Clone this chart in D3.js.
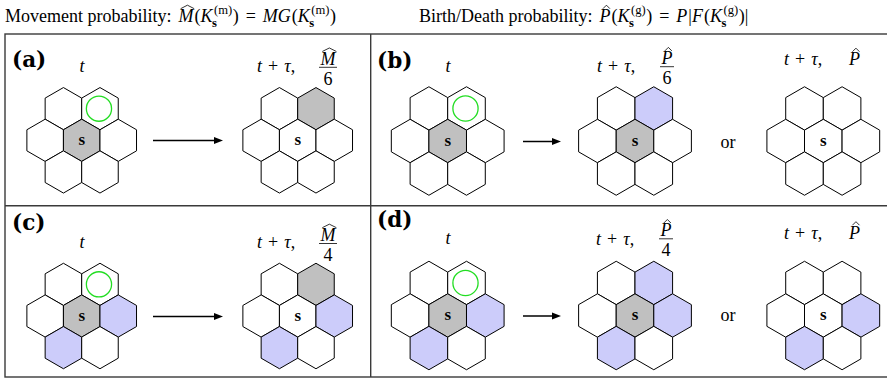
<!DOCTYPE html>
<html lang="en">
  <head>
    <title>Movement and birth/death moves</title>
    <script src="https://cdn.jsdelivr.net/npm/d3@7"></script>
  </head>

  <body style="margin: 0; background-color: white;">
    <div id="container"></div>
  </body>

<script>
    // hexagon neighbourhood: NW, NE, W, centre, E, SW, SE
    const cells = ["NW", "NE", "W", "C", "E", "SW", "SE"];
    const cellCol = [-0.5, 0.5, -1, 0, 1, -0.5, 0.5];
    const cellRow = [-1, -1, 0, 0, 0, 1, 1];

    // 0 = empty, 1 = occupied (grey), 2 = other occupied site (blue)
    const gridA1 = [0, 0, 0, 1, 0, 0, 0];
    const gridA2 = [0, 1, 0, 0, 0, 0, 0];
    const gridB1 = [0, 0, 0, 1, 0, 0, 0];
    const gridB2 = [0, 2, 0, 1, 0, 0, 0];
    const gridB3 = [0, 0, 0, 0, 0, 0, 0];
    const gridC1 = [0, 0, 0, 1, 2, 2, 0];
    const gridC2 = [0, 1, 0, 0, 2, 2, 0];
    const gridD1 = [0, 0, 0, 1, 2, 2, 0];
    const gridD2 = [0, 2, 0, 1, 2, 2, 0];
    const gridD3 = [0, 0, 0, 0, 2, 2, 0];

    const panelLabels = ["(a)", "(b)", "(c)", "(d)"];
    const fracDen = ["6", "6", "4", "4"];

    const fillColors = ["#ffffff", "#c0c0c0", "#ccccfa"];
    const serif = "Liberation Serif, Times New Roman, DejaVu Serif, serif";

    const W = 887, H = 379;
    const svg = d3.select("#container").append("svg")
      .attr("width", W).attr("height", H);

    // ---------- text helpers ----------
    function put(g, x, y, str, o) {
      const t = g.append("text")
        .attr("x", x).attr("y", y)
        .attr("font-family", o.font || serif)
        .attr("font-size", o.size)
        .attr("font-style", o.it ? "italic" : "normal")
        .attr("font-weight", o.b ? "bold" : "normal")
        .attr("text-anchor", o.anchor || "start")
        .attr("fill", "black")
        .text(str);
      return t.node().getComputedTextLength();
    }

    function hat(g, x0, x1, y, wide) {
      const h = 3.5;
      const m = (x0 + x1) / 2;
      const half = wide ? (x1 - x0) / 2 : Math.min(3.5, (x1 - x0) / 2);
      g.append("path")
        .attr("d", `M${m - half},${y} L${m},${y - h} L${m + half},${y}`)
        .attr("fill", "none").attr("stroke", "black").attr("stroke-width", 0.8);
    }

    function mathRow(g, x, y, parts, size) {
      let cx = x;
      parts.forEach((p) => {
        cx = p.at !== undefined ? p.at : cx + (p.pre || 0);
        const w = put(g, cx, y, p.s, {size: size, it: p.it, b: p.b});
        if (p.hat) hat(g, cx + (p.it ? size * 0.12 : 0), cx + w + (p.it ? size * 0.04 : 0), y - size * 0.74, p.hat === "wide");
        let adv = w;
        if (p.sub || p.sup) {
          const ss = size * 0.7;
          const w1 = p.sub ? put(g, cx + w - 0.5, y + size * 0.3, p.sub, {size: ss, b: true}) : 0;
          const w2 = p.sup ? put(g, cx + w + 1.5, y - size * 0.42, p.sup, {size: ss}) : 0;
          adv += Math.max(w1, w2 + 1.5) + 0.5;
        }
        cx += adv + (p.post || 0);
      });
      return cx;
    }

    function frac(g, cx, barY, num, den, size, hatType) {
      const nw = put(g, cx, barY - 2.5, num, {size: size, it: true, anchor: "middle"});
      hat(g, cx - nw / 2 + size * 0.1, cx + nw / 2 + size * 0.05, barY - 2.5 - size * 0.74, hatType === "wide");
      const dw = put(g, cx, barY + size * 0.98, den, {size: size, anchor: "middle"});
      const bw = Math.max(nw, dw) + 3;
      g.append("line")
        .attr("x1", cx - bw / 2).attr("x2", cx + bw / 2)
        .attr("y1", barY).attr("y2", barY)
        .attr("stroke", "black").attr("stroke-width", 0.8);
    }

    const K = (sup) => ({s: "K", it: true, sub: "s", sup: sup});
    const tTau = [{s: "t", it: true}, {s: "+", pre: 6, post: 6}, {s: "τ", it: true}, {s: ","}];

    // ---------- titles ----------
    const titleG = svg.append("g");
    mathRow(titleG, 5, 22, [
      {s: "Movement probability:"}, {s: "M", it: true, hat: "wide", pre: 7}, {s: "(", pre: 1}, K("(m)"), {s: ")"},
      {s: "=", pre: 7, post: 7}, {s: "MG", it: true}, {s: "(", pre: 1}, K("(m)"), {s: ")"}
    ], 18);
    mathRow(titleG, 419, 22, [
      {s: "Birth/Death probability:"}, {s: "P", it: true, hat: "narrow", pre: 7}, {s: "(", pre: 1}, K("(g)"), {s: ")"},
      {s: "=", pre: 7, post: 7}, {s: "P", it: true}, {s: "|", pre: 1}, {s: "F", it: true}, {s: "(", pre: 1}, K("(g)"), {s: ")"}, {s: "|"}
    ], 18);

    // ---------- frame ----------
    const frame = svg.append("g").attr("stroke", "#3a3a3a").attr("stroke-width", 1.4).attr("fill", "none");
    frame.append("rect").attr("x", 5).attr("y", 34).attr("width", 890).attr("height", 343);
    frame.append("line").attr("x1", 370.7).attr("x2", 370.7).attr("y1", 34).attr("y2", 377);
    frame.append("line").attr("x1", 5).attr("x2", 895).attr("y1", 205.7).attr("y2", 205.7);

    // ---------- hex grids ----------
    const hexLine = d3.line().curve(d3.curveLinearClosed);
    function hexPts(r) {
      return d3.range(6).map((k) => {
        const a = (Math.PI / 180) * (-90 + 60 * k);
        return [r * Math.cos(a), r * Math.sin(a)];
      });
    }

    function drawGrid(cx, cy, r, fills, circle) {
      const w = Math.sqrt(3) * r;
      const xs = d3.scaleLinear().domain([0, 1]).range([cx, cx + w]);
      const ys = d3.scaleLinear().domain([0, 1]).range([cy, cy + 1.5 * r]);
      const g = svg.append("g");
      g.selectAll("path.hex")
        .data(cells)
        .enter()
        .append("path")
          .attr("class", "hex")
          .attr("d", hexLine(hexPts(r)))
          .attr("transform", (d, i) => `translate(${xs(cellCol[i])}, ${ys(cellRow[i])})`)
          .attr("fill", (d, i) => fillColors[fills[i]])
          .attr("stroke", "black")
          .attr("stroke-width", 1)
          .attr("stroke-linejoin", "miter");
      put(g, xs(0), ys(0) + 4.5, "s", {size: 17, b: true, anchor: "middle"});
      if (circle) {
        const i = cells.indexOf("NE");
        g.append("circle")
          .attr("cx", xs(cellCol[i]) - 1).attr("cy", ys(cellRow[i]))
          .attr("r", 12.6)
          .attr("fill", "none").attr("stroke", "#22dd22").attr("stroke-width", 1.3);
      }
    }

    function arrow(x0, x1, y) {
      svg.append("line").attr("x1", x0).attr("x2", x1 - 7).attr("y1", y).attr("y2", y)
        .attr("stroke", "black").attr("stroke-width", 1.5);
      svg.append("path").attr("d", `M${x1},${y} L${x1 - 9},${y - 3.6} L${x1 - 9},${y + 3.6} Z`).attr("fill", "black");
    }

    const labelFont = "DejaVu Serif, serif";
    const mSize = 18;

    // ---------- panels ----------
    const L = svg.append("g");
    // (a)
    put(L, 12, 66.5, panelLabels[0], {size: 21.5, b: true, font: labelFont});
    put(L, 82, 71.5, "t", {size: mSize, it: true, anchor: "middle"});
    mathRow(L, 257, 71.5, tTau, mSize);
    frac(L, 328, 67.3, "M", fracDen[0], mSize, "wide");
    drawGrid(81.7, 140.3, 21.1, gridA1, true);
    arrow(153, 223, 140.5);
    drawGrid(297.7, 140.3, 21.1, gridA2, false);

    // (b)
    put(L, 377, 67.5, panelLabels[1], {size: 21.5, b: true, font: labelFont});
    put(L, 448, 72, "t", {size: mSize, it: true, anchor: "middle"});
    mathRow(L, 597, 72, tTau, mSize);
    frac(L, 667, 66.7, "P", fracDen[1], mSize, "narrow");
    mathRow(L, 784, 65, tTau.concat([{s: "P", it: true, hat: "narrow", at: 849}]), mSize);
    drawGrid(447.7, 141, 21.7, gridB1, true);
    arrow(523, 561, 141.5);
    drawGrid(635, 141, 21.7, gridB2, false);
    put(L, 728, 148, "or", {size: mSize, anchor: "middle"});
    drawGrid(823.3, 141, 21.7, gridB3, false);

    // (c)
    put(L, 12, 230, panelLabels[2], {size: 21.5, b: true, font: labelFont});
    put(L, 82, 248, "t", {size: mSize, it: true, anchor: "middle"});
    mathRow(L, 257, 248, tTau, mSize);
    frac(L, 328, 243.5, "M", fracDen[2], mSize, "wide");
    drawGrid(81.7, 316, 21.1, gridC1, true);
    arrow(153, 223, 316.5);
    drawGrid(297.7, 316, 21.1, gridC2, false);

    // (d)
    put(L, 377, 227, panelLabels[3], {size: 21.5, b: true, font: labelFont});
    put(L, 448, 244, "t", {size: mSize, it: true, anchor: "middle"});
    mathRow(L, 596, 245, tTau, mSize);
    frac(L, 666, 238.8, "P", fracDen[3], mSize, "narrow");
    mathRow(L, 784, 238.5, tTau.concat([{s: "P", it: true, hat: "narrow", at: 849}]), mSize);
    drawGrid(447.7, 315.5, 21.7, gridD1, true);
    arrow(523, 561, 316);
    drawGrid(635, 315.5, 21.7, gridD2, false);
    put(L, 728, 321, "or", {size: mSize, anchor: "middle"});
    drawGrid(823.3, 315.5, 21.7, gridD3, false);
</script>
</html>
